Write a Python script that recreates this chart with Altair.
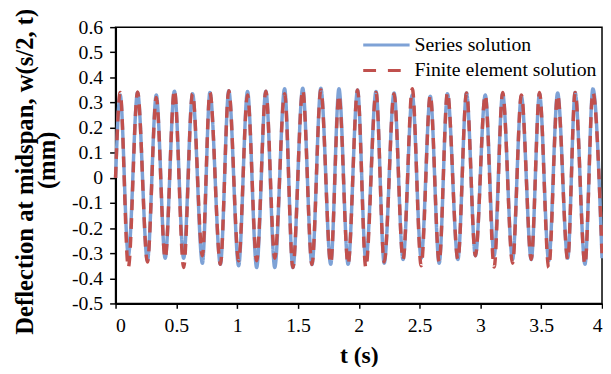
import altair as alt
import pandas as pd

# times (s) of the crests and troughs
peak_t = [0.038, 0.181, 0.335, 0.484, 0.633, 0.776, 0.931, 1.085, 1.236, 1.390,
          1.539, 1.688, 1.837, 1.990, 2.142, 2.290, 2.440, 2.588, 2.729, 2.886,
          3.040, 3.183, 3.337, 3.486, 3.635, 3.779, 3.925]
trough_t = [0.105, 0.262, 0.408, 0.560, 0.714, 0.862, 1.012, 1.160, 1.309, 1.458,
            1.615, 1.769, 1.912, 2.058, 2.209, 2.364, 2.513, 2.661, 2.815, 2.959,
            3.113, 3.264, 3.418, 3.562, 3.718, 3.860, 4.000]

# Series solution (mm)
series_peaks = [0.330, 0.340, 0.330, 0.345, 0.335, 0.340, 0.347, 0.344, 0.345, 0.355,
                0.357, 0.357, 0.355, 0.350, 0.344, 0.338, 0.330, 0.325, 0.335, 0.338,
                0.330, 0.335, 0.325, 0.335, 0.338, 0.340, 0.355]
series_troughs = [-0.310, -0.330, -0.320, -0.320, -0.340, -0.344, -0.350, -0.357, -0.357, -0.357,
                  -0.345, -0.344, -0.344, -0.330, -0.340, -0.325, -0.320, -0.340, -0.325, -0.310,
                  -0.310, -0.325, -0.325, -0.330, -0.320, -0.344, -0.320]

# Finite element solution (mm)
fe_peaks = [0.340, 0.342, 0.320, 0.350, 0.335, 0.340, 0.347, 0.330, 0.345, 0.335,
            0.350, 0.350, 0.330, 0.350, 0.340, 0.335, 0.355, 0.330, 0.340, 0.338,
            0.330, 0.340, 0.330, 0.340, 0.330, 0.340, 0.340]
fe_troughs = [-0.357, -0.335, -0.320, -0.357, -0.310, -0.344, -0.330, -0.330, -0.320, -0.357,
              -0.345, -0.340, -0.344, -0.357, -0.335, -0.325, -0.350, -0.335, -0.325, -0.310,
              -0.355, -0.340, -0.325, -0.357, -0.325, -0.344, -0.300]

series_names = ["Series solution", "Finite element solution"]
colors = ["#7ea2d6", "#c0504d"]
y_ticks = [-0.5, -0.4, -0.3, -0.2, -0.1, 0, 0.1, 0.2, 0.3, 0.4, 0.5, 0.6]
x_ticks = [0, 0.5, 1, 1.5, 2, 2.5, 3, 3.5, 4]

rows = []
for name, pk, tr in [(series_names[0], series_peaks, series_troughs),
                     (series_names[1], fe_peaks, fe_troughs)]:
    rows.append({"t": 0.0, "w": 0.0, "series": name})
    for i in range(len(peak_t)):
        rows.append({"t": peak_t[i], "w": pk[i], "series": name})
        rows.append({"t": trough_t[i], "w": tr[i], "series": name})
df = pd.DataFrame(rows)

FONT = "Liberation Serif"
LABEL_SIZE = 20
TITLE_SIZE = 25

x_enc = alt.X("t:Q",
              scale=alt.Scale(domain=[0, 4], nice=False, zero=False),
              axis=alt.Axis(values=x_ticks, labelExpr="format(datum.value, '~g')",
                            labelFont=FONT, labelFontSize=LABEL_SIZE, labelColor="black",
                            labelPadding=7, tickSize=5,
                            title="t (s)", titleFont=FONT, titleFontSize=24,
                            titleFontWeight="bold", titlePadding=9))
y_enc = alt.Y("w:Q",
              scale=alt.Scale(domain=[-0.5, 0.6], nice=False, zero=False),
              axis=alt.Axis(values=y_ticks,
                            labelExpr="abs(datum.value) < 1e-9 ? '0' : replace(format(datum.value, '.1f'), '\u2212', '-')",
                            labelFont=FONT, labelFontSize=LABEL_SIZE, labelColor="black",
                            labelPadding=7, tickSize=6,
                            title="Deflection at midspan, w(s/2, t)", titleFont=FONT,
                            titleFontSize=TITLE_SIZE, titleFontWeight="bold",
                            titleAngle=270, titleAlign="center", titleBaseline="middle",
                            titleX=-92, titleY=146))

base = alt.Chart(df).mark_line(interpolate="monotone", strokeWidth=3.5).encode(
    x=x_enc,
    y=y_enc,
    color=alt.Color("series:N", scale=alt.Scale(domain=series_names, range=colors), legend=None),
    strokeDash=alt.StrokeDash("series:N",
                              scale=alt.Scale(domain=series_names, range=[[1, 0], [11, 8]]),
                              legend=None),
)

series_line = base.transform_filter(alt.datum.series == series_names[0])
fe_line = base.transform_filter(alt.datum.series == series_names[1])

one = pd.DataFrame({"label": ["(mm)"]})

mm = alt.Chart(one).mark_text(
    angle=270, font=FONT, fontSize=TITLE_SIZE, fontWeight="bold", color="black",
    align="center", baseline="middle"
).encode(x=alt.value(-69), y=alt.value(135), text="label:N")

# legend drawn by hand (inside the plot, top right)
leg_df = pd.DataFrame({"label": series_names})
leg1_line = alt.Chart(leg_df).transform_filter(alt.datum.label == series_names[0]).mark_rule(
    color=colors[0], strokeWidth=3).encode(x=alt.value(251), x2=alt.value(298), y=alt.value(18))
leg2_line = alt.Chart(leg_df).transform_filter(alt.datum.label == series_names[1]).mark_rule(
    color=colors[1], strokeWidth=3, strokeDash=[13, 12]).encode(
    x=alt.value(251), x2=alt.value(298), y=alt.value(44))
leg1_text = alt.Chart(leg_df).transform_filter(alt.datum.label == series_names[0]).mark_text(
    font=FONT, fontSize=LABEL_SIZE, color="black", align="left", baseline="middle").encode(
    x=alt.value(303), y=alt.value(18), text="label:N")
leg2_text = alt.Chart(leg_df).transform_filter(alt.datum.label == series_names[1]).mark_text(
    font=FONT, fontSize=LABEL_SIZE, color="black", align="left", baseline="middle").encode(
    x=alt.value(303), y=alt.value(44), text="label:N")

chart = alt.layer(series_line, fe_line, mm, leg1_line, leg2_line, leg1_text, leg2_text).properties(
    width=493, height=280,
    autosize=alt.AutoSizeParams(type="none"),
    padding={"left": 109, "top": 17, "right": 1, "bottom": 62},
    background="white",
).configure_view(
    stroke="black", strokeWidth=1.5
).configure_axis(
    grid=False, domainColor="black", domainWidth=2, tickColor="black", tickWidth=1.5,
    labelFont=FONT, labelColor="black", titleFont=FONT, titleColor="black"
)

chart.save("out.html", embed_options={"renderer": "svg", "actions": False})
